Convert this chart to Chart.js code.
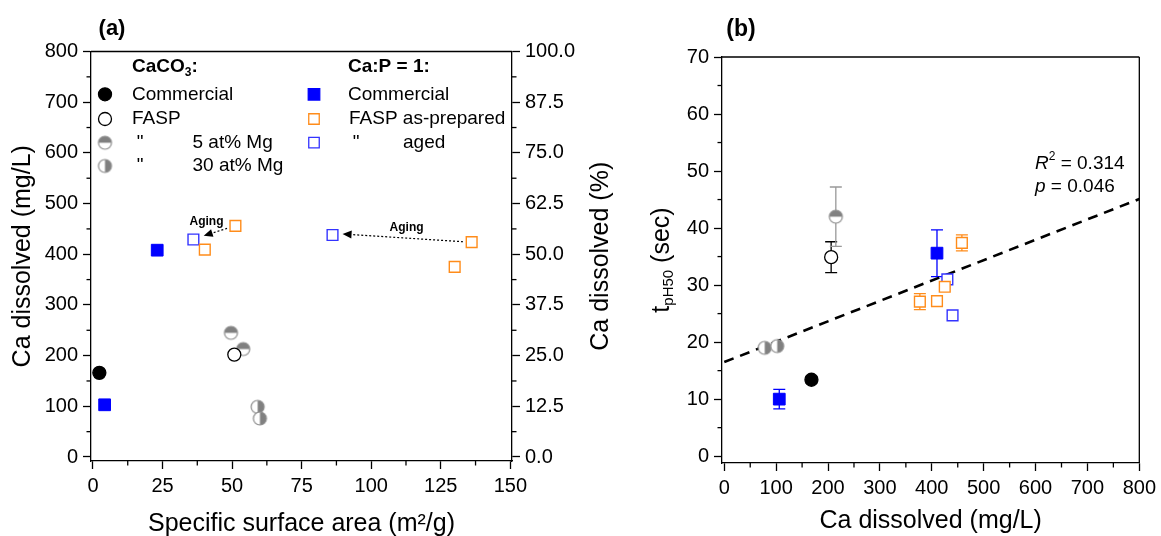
<!DOCTYPE html>
<html><head><meta charset="utf-8">
<script src="https://cdn.jsdelivr.net/npm/chart.js@4.4.1/dist/chart.umd.min.js"></script>
<style>
html,body{margin:0;padding:0;background:#fff;overflow:hidden;}
#wrap{position:relative;width:1161px;height:536px;background:#fff;}
#ca{position:absolute;left:0;top:0;}
#cb{position:absolute;left:625px;top:0;}
</style></head><body>
<div id="wrap">
<canvas id="ca" width="625" height="536"></canvas>
<canvas id="cb" width="536" height="536"></canvas>
</div>
<script>
// ================= DATA =================
// Panel (a): x = specific surface area (m2/g), y = Ca dissolved (mg/L)
const ssaCaCO3Commercial = [2.3];
const caCaCO3Commercial  = [166];
const ssaFASP = [50.8];
const caFASP  = [202];
const ssaMg5 = [49.6, 54.0];
const caMg5  = [245, 213];
const ssaMg30 = [59.2, 60.0];
const caMg30  = [99, 76];
const ssaCaPCommercial = [4.2, 23.1];
const caCaPCommercial  = [103, 408];
const ssaCaPAsPrep = [40.2, 51.2, 136.1, 130.0];
const caCaPAsPrep  = [409, 456, 424, 375];
const ssaCaPAged = [36.1, 86.1];
const caCaPAged  = [429, 438];
// "Aging" arrows (from -> to) and label positions, in data units of panel (a)
const agingFromX = [48.2, 133.0];
const agingFromY = [451, 424.7];
const agingToX   = [39.8, 89.7];
const agingToY   = [436.6, 440];
const agingLabelX = [40.8, 112.7];
const agingLabelY = [465, 453];

// Panel (b): x = Ca dissolved (mg/L), y = tpH50 (sec), e = error bar half-length
const bCaCaCO3Commercial = [168];
const tCaCO3Commercial   = [13.4];
const eCaCO3Commercial   = [0.6];
const bCaFASP = [206];
const tFASP   = [34.9];
const eFASP   = [2.7];
const bCaMg5 = [215];
const tMg5   = [42.0];
const eMg5   = [5.2];
const bCaMg30 = [78, 102];
const tMg30   = [19.0, 19.3];
const bCaCaPCommercial = [106, 410];
const tCaPCommercial   = [10.0, 35.6];
const eCaPCommercial   = [1.7, 4.1];
const bCaCaPAsPrep = [377, 410, 425, 458];
const tCaPAsPrep   = [27.1, 27.2, 29.7, 37.4];
const eCaPAsPrep   = [1.4, 0, 0, 1.4];
const bCaCaPAged = [430, 440];
const tCaPAged   = [31.0, 24.7];
// linear fit endpoints
const fitX = [0, 800];
const fitY = [16.5, 45.1];

// tick values / labels
const aXTicks = [0, 25, 50, 75, 100, 125, 150];
const aYTicks = [0, 100, 200, 300, 400, 500, 600, 700, 800];
const aY2Ticks = [0, 12.5, 25, 37.5, 50, 62.5, 75, 87.5, 100];
const aY2TickLabels = ['0.0','12.5','25.0','37.5','50.0','62.5','75.0','87.5','100.0'];
const bXTicks = [0, 100, 200, 300, 400, 500, 600, 700, 800];
const bYTicks = [0, 10, 20, 30, 40, 50, 60, 70];

// ================= STYLE / HELPERS =================
const FONT = '"Liberation Sans", Arial, sans-serif';
const BLUE = '#0000FF', BLUE2 = '#3333FF', ORANGE = '#FF8C1A', GRAY = '#808080', LGRAY = '#999999';

function pts(xs, ys){ return xs.map((x,i)=>({x:x, y:ys[i]})); }
function mids(arr){ const o=[]; for(let i=0;i<arr.length-1;i++) o.push((arr[i]+arr[i+1])/2); return o; }

function halfCircle(kind, r){
  const s = Math.ceil(2*r+4);
  const c = document.createElement('canvas'); c.width = s; c.height = s;
  const g = c.getContext('2d'); const cx = s/2, cy = s/2;
  g.fillStyle = '#fff'; g.beginPath(); g.arc(cx,cy,r,0,Math.PI*2); g.fill();
  g.fillStyle = GRAY; g.beginPath();
  if (kind === 'top') g.arc(cx,cy,r,Math.PI,0); else g.arc(cx,cy,r,-Math.PI/2,Math.PI/2);
  g.closePath(); g.fill();
  g.strokeStyle = '#8c8c8c'; g.lineWidth = 1.2; g.beginPath(); g.arc(cx,cy,r,0,Math.PI*2); g.stroke();
  return c;
}
const imgMg5 = halfCircle('top', 6.5);
const imgMg30 = halfCircle('right', 6.5);

function axisCommon(ticksArr, extra){
  return Object.assign({
    type: 'linear',
    afterBuildTicks: s => { s.ticks = ticksArr.map(v => ({value: v})); },
    ticks: { font: {family: FONT, size: 20}, color: '#000', padding: 5, autoSkip: false, maxRotation: 0 },
    grid: { display: true, drawOnChartArea: false, drawTicks: true, tickLength: 8, tickColor: '#000', tickWidth: 1.3, color: '#000' },
    border: { display: true, color: '#000', width: 1.3 }
  }, extra);
}

const minorTicks = {
  id: 'minorTicks',
  afterDraw(chart, args, opts){
    const ctx = chart.ctx; ctx.save(); ctx.strokeStyle = '#000'; ctx.lineWidth = 1.3;
    const sets = opts.sets || {};
    Object.keys(sets).forEach(id => {
      const s = chart.scales[id];
      sets[id].forEach(v => {
        const p = s.getPixelForValue(v);
        ctx.beginPath();
        if (s.position === 'left') { ctx.moveTo(s.right - 4.5, p); ctx.lineTo(s.right, p); }
        else if (s.position === 'right') { ctx.moveTo(s.left, p); ctx.lineTo(s.left + 4.5, p); }
        else { ctx.moveTo(p, s.top); ctx.lineTo(p, s.top + 4.5); }
        ctx.stroke();
      });
    });
    ctx.restore();
  }
};

const boxLines = {
  id: 'boxLines',
  afterDraw(chart, args, opts){
    const a = chart.chartArea, ctx = chart.ctx;
    ctx.save(); ctx.strokeStyle = '#000'; ctx.lineWidth = 1.3;
    ctx.beginPath(); ctx.moveTo(a.left, a.top); ctx.lineTo(a.right, a.top);
    if (opts.right) { ctx.moveTo(a.right, a.top); ctx.lineTo(a.right, a.bottom); }
    ctx.stroke(); ctx.restore();
  }
};

const errorBars = {
  id: 'errorBars',
  beforeDatasetsDraw(chart){
    const ctx = chart.ctx, xs = chart.scales.x, ys = chart.scales.y;
    ctx.save();
    chart.data.datasets.forEach(ds => {
      if (!ds.errorBars) return;
      ctx.strokeStyle = ds.errorColor || '#000'; ctx.lineWidth = 1.3;
      ds.data.forEach((p, i) => {
        const e = ds.errorBars[i]; if (!e) return;
        const px = xs.getPixelForValue(p.x);
        const t = ys.getPixelForValue(p.y + e), b = ys.getPixelForValue(p.y - e);
        const hw = ds.capHalf || 6;
        ctx.beginPath();
        ctx.moveTo(px, t); ctx.lineTo(px, b);
        ctx.moveTo(px - hw, t); ctx.lineTo(px + hw, t);
        ctx.moveTo(px - hw, b); ctx.lineTo(px + hw, b);
        ctx.stroke();
      });
    });
    ctx.restore();
  }
};

function drawCircleMarker(ctx, x, y, fill, stroke){
  ctx.beginPath(); ctx.arc(x, y, 6.5, 0, Math.PI*2);
  ctx.fillStyle = fill; ctx.fill(); ctx.lineWidth = 1.3; ctx.strokeStyle = stroke; ctx.stroke();
}
function drawSquareMarker(ctx, x, y, fill, stroke, side){
  ctx.beginPath(); ctx.rect(x - side/2, y - side/2, side, side);
  ctx.fillStyle = fill; ctx.fill(); ctx.lineWidth = 1.3; ctx.strokeStyle = stroke; ctx.stroke();
}

function rotatedText(ctx, parts, cx, cy){
  // parts: [{t, font, dy}]
  ctx.save(); ctx.translate(cx, cy); ctx.rotate(-Math.PI/2);
  ctx.textBaseline = 'middle'; ctx.textAlign = 'left'; ctx.fillStyle = '#000';
  let w = 0; parts.forEach(p => { ctx.font = p.font; w += ctx.measureText(p.t).width; });
  let x = -w/2;
  parts.forEach(p => { ctx.font = p.font; ctx.fillText(p.t, x, p.dy || 0); x += ctx.measureText(p.t).width; });
  ctx.restore();
}

// ================= PANEL (a) =================
const annotA = {
  id: 'annotA',
  afterDraw(chart){
    const ctx = chart.ctx, a = chart.chartArea, xs = chart.scales.x, ys = chart.scales.y;
    ctx.save();
    ctx.fillStyle = '#000';
    // panel label
    ctx.font = 'bold 22px ' + FONT; ctx.textAlign = 'center'; ctx.textBaseline = 'middle';
    ctx.fillText('(a)', 112, 28.5);
    // axis titles
    rotatedText(ctx, [{t:'Ca dissolved (mg/L)', font:'25px ' + FONT}], 23, (a.top + a.bottom)/2);
    rotatedText(ctx, [{t:'Ca dissolved (%)', font:'25px ' + FONT}], 601, (a.top + a.bottom)/2);
    ctx.font = '25px ' + FONT; ctx.textAlign = 'center'; ctx.textBaseline = 'middle';
    ctx.fillText('Specific surface area (m\u00B2/g)', (a.left + a.right)/2, 524);

    // legend
    const L = a.left, T = a.top;
    ctx.textAlign = 'left'; ctx.textBaseline = 'middle';
    // headers
    let x = L + 41;
    ctx.font = 'bold 19px ' + FONT; ctx.fillText('CaCO', x, T + 15.5); x += ctx.measureText('CaCO').width;
    ctx.font = 'bold 12px ' + FONT; ctx.fillText('3', x, T + 21.5); x += ctx.measureText('3').width;
    ctx.font = 'bold 19px ' + FONT; ctx.fillText(':', x, T + 15.5);
    ctx.fillText('Ca:P = 1:', L + 257, T + 15.5);
    const rows = [T + 42.8, T + 67.5, T + 91.2, T + 114.5];
    ctx.font = '19px ' + FONT;
    // column 1
    drawCircleMarker(ctx, L + 14, rows[0], '#000', '#000');
    ctx.fillStyle = '#000'; ctx.fillText('Commercial', L + 41, rows[0]);
    drawCircleMarker(ctx, L + 14, rows[1], '#fff', '#000');
    ctx.fillStyle = '#000'; ctx.fillText('FASP', L + 41, rows[1]);
    ctx.drawImage(imgMg5, L + 14 - imgMg5.width/2, rows[2] - imgMg5.height/2);
    ctx.fillStyle = '#000'; ctx.textAlign = 'center'; ctx.fillText('"', L + 49, rows[2]);
    ctx.textAlign = 'left'; ctx.fillText('5 at% Mg', L + 101.5, rows[2]);
    ctx.drawImage(imgMg30, L + 14 - imgMg30.width/2, rows[3] - imgMg30.height/2);
    ctx.fillStyle = '#000'; ctx.textAlign = 'center'; ctx.fillText('"', L + 49, rows[3]);
    ctx.textAlign = 'left'; ctx.fillText('30 at% Mg', L + 101.5, rows[3]);
    // column 2
    drawSquareMarker(ctx, L + 223, rows[0], BLUE, BLUE, 11.5);
    ctx.fillStyle = '#000'; ctx.fillText('Commercial', L + 257, rows[0]);
    drawSquareMarker(ctx, L + 223, rows[1], '#fff', ORANGE, 10.5);
    ctx.fillStyle = '#000'; ctx.fillText('FASP as-prepared', L + 258, rows[1]);
    drawSquareMarker(ctx, L + 223, rows[2], '#fff', BLUE2, 10.5);
    ctx.fillStyle = '#000'; ctx.textAlign = 'center'; ctx.fillText('"', L + 265, rows[2]);
    ctx.textAlign = 'left'; ctx.fillText('aged', L + 312, rows[2]);

    // aging arrows
    for (let i = 0; i < agingFromX.length; i++) {
      const x1 = xs.getPixelForValue(agingFromX[i]), y1 = ys.getPixelForValue(agingFromY[i]);
      const x2 = xs.getPixelForValue(agingToX[i]), y2 = ys.getPixelForValue(agingToY[i]);
      const ang = Math.atan2(y2 - y1, x2 - x1), hl = 9, hw = 4;
      const bx = x2 - hl*Math.cos(ang), by = y2 - hl*Math.sin(ang);
      ctx.save(); ctx.strokeStyle = '#000'; ctx.lineWidth = 1.2; ctx.setLineDash([2, 2]);
      ctx.beginPath(); ctx.moveTo(x1, y1); ctx.lineTo(bx, by); ctx.stroke(); ctx.restore();
      ctx.beginPath(); ctx.moveTo(x2, y2);
      ctx.lineTo(bx + hw*Math.sin(ang), by - hw*Math.cos(ang));
      ctx.lineTo(bx - hw*Math.sin(ang), by + hw*Math.cos(ang));
      ctx.closePath(); ctx.fillStyle = '#000'; ctx.fill();
      ctx.font = 'bold 12px ' + FONT; ctx.textAlign = 'center'; ctx.textBaseline = 'middle';
      ctx.fillText('Aging', xs.getPixelForValue(agingLabelX[i]), ys.getPixelForValue(agingLabelY[i]));
    }
    ctx.restore();
  }
};

const dsA = [
  { label: 'CaCO3 Commercial', data: pts(ssaCaCO3Commercial, caCaCO3Commercial), pointStyle: 'circle', pointRadius: 6.5, backgroundColor: '#000', borderColor: '#000', borderWidth: 1.3 },
  { label: 'FASP', data: pts(ssaFASP, caFASP), pointStyle: 'circle', pointRadius: 6.5, backgroundColor: '#fff', borderColor: '#000', borderWidth: 1.3 },
  { label: '5 at% Mg', data: pts(ssaMg5, caMg5), pointStyle: imgMg5, pointRadius: 6.5 },
  { label: '30 at% Mg', data: pts(ssaMg30, caMg30), pointStyle: imgMg30, pointRadius: 6.5 },
  { label: 'Ca:P=1 Commercial', data: pts(ssaCaPCommercial, caCaPCommercial), pointStyle: 'rect', pointRadius: 8.3, backgroundColor: BLUE, borderColor: BLUE, borderWidth: 1 },
  { label: 'FASP as-prepared', data: pts(ssaCaPAsPrep, caCaPAsPrep), pointStyle: 'rect', pointRadius: 7.6, backgroundColor: '#fff', borderColor: ORANGE, borderWidth: 1.4 },
  { label: 'aged', data: pts(ssaCaPAged, caCaPAged), pointStyle: 'rect', pointRadius: 7.6, backgroundColor: '#fff', borderColor: BLUE2, borderWidth: 1.4 }
];

new Chart(document.getElementById('ca'), {
  type: 'scatter',
  data: { datasets: dsA },
  options: {
    responsive: false, animation: false, events: [],
    layout: { padding: { top: 51.5, left: 0, right: 0, bottom: 0 } },
    plugins: { legend: { display: false }, tooltip: { enabled: false },
      minorTicks: { sets: { x: mids(aXTicks), y: mids(aYTicks), y1: mids(aY2Ticks) } },
      boxLines: { right: false } },
    scales: {
      x: axisCommon(aXTicks, { position: 'bottom', min: -0.7, max: 150.6, afterFit: s => { s.height = 75; } }),
      y: axisCommon(aYTicks, { position: 'left', min: -7.9, max: 800, afterFit: s => { s.width = 91; } }),
      y1: Object.assign(axisCommon(aY2Ticks, { position: 'right', min: -7.9/8, max: 100, afterFit: s => { s.width = 113; } }),
        { ticks: { font: {family: FONT, size: 20}, color: '#000', padding: 5, autoSkip: false, maxRotation: 0,
                   callback: (v, i) => aY2TickLabels[i] } })
    }
  },
  plugins: [errorBars, minorTicks, boxLines, annotA]
});

// ================= PANEL (b) =================
const annotB = {
  id: 'annotB',
  afterDraw(chart){
    const ctx = chart.ctx, a = chart.chartArea;
    ctx.save(); ctx.fillStyle = '#000';
    ctx.font = 'bold 23px ' + FONT; ctx.textAlign = 'center'; ctx.textBaseline = 'middle';
    ctx.fillText('(b)', 116, 29.5);
    ctx.font = '25px ' + FONT;
    ctx.fillText('Ca dissolved (mg/L)', (a.left + a.right)/2, 521);
    rotatedText(ctx, [
      {t:'t', font:'25px ' + FONT},
      {t:'pH50', font:'15px ' + FONT, dy: 7},
      {t:' (sec)', font:'25px ' + FONT}
    ], 37, (a.top + a.bottom)/2);
    // R2 / p annotation
    ctx.textAlign = 'left'; ctx.textBaseline = 'middle';
    let x = 410, y = 163.3;
    ctx.font = 'italic 19px ' + FONT; ctx.fillText('R', x, y); x += ctx.measureText('R').width;
    ctx.font = '12px ' + FONT; ctx.fillText('2', x, y - 7); x += ctx.measureText('2').width;
    ctx.font = '19px ' + FONT; ctx.fillText(' = 0.314', x, y);
    x = 410; y = 186.7;
    ctx.font = 'italic 19px ' + FONT; ctx.fillText('p', x, y); x += ctx.measureText('p').width;
    ctx.font = '19px ' + FONT; ctx.fillText(' = 0.046', x, y);
    ctx.restore();
  }
};

const dsB = [
  { label: 'CaCO3 Commercial', data: pts(bCaCaCO3Commercial, tCaCO3Commercial), errorBars: eCaCO3Commercial, errorColor: '#000', capHalf: 6, pointStyle: 'circle', pointRadius: 6.5, backgroundColor: '#000', borderColor: '#000', borderWidth: 1.3 },
  { label: 'FASP', data: pts(bCaFASP, tFASP), errorBars: eFASP, errorColor: '#000', capHalf: 6, pointStyle: 'circle', pointRadius: 6.5, backgroundColor: '#fff', borderColor: '#000', borderWidth: 1.3 },
  { label: '5 at% Mg', data: pts(bCaMg5, tMg5), errorBars: eMg5, errorColor: LGRAY, capHalf: 6, pointStyle: imgMg5, pointRadius: 6.5 },
  { label: '30 at% Mg', data: pts(bCaMg30, tMg30), pointStyle: imgMg30, pointRadius: 6.5 },
  { label: 'Ca:P=1 Commercial', data: pts(bCaCaPCommercial, tCaPCommercial), errorBars: eCaPCommercial, errorColor: BLUE, capHalf: 6, pointStyle: 'rect', pointRadius: 8.3, backgroundColor: BLUE, borderColor: BLUE, borderWidth: 1 },
  { label: 'FASP as-prepared', data: pts(bCaCaPAsPrep, tCaPAsPrep), errorBars: eCaPAsPrep, errorColor: ORANGE, capHalf: 6, pointStyle: 'rect', pointRadius: 7.6, backgroundColor: '#fff', borderColor: ORANGE, borderWidth: 1.4 },
  { label: 'aged', data: pts(bCaCaPAged, tCaPAged), pointStyle: 'rect', pointRadius: 7.6, backgroundColor: '#fff', borderColor: BLUE2, borderWidth: 1.4 },
  { label: 'fit', type: 'line', data: pts(fitX, fitY), showLine: true, pointRadius: 0, borderColor: '#000', borderWidth: 2.6, borderDash: [10, 7], fill: false }
];

new Chart(document.getElementById('cb'), {
  type: 'scatter',
  data: { datasets: dsB },
  options: {
    responsive: false, animation: false, events: [],
    layout: { padding: { top: 57, left: 0, right: 18, bottom: 0 } },
    plugins: { legend: { display: false }, tooltip: { enabled: false },
      minorTicks: { sets: { x: mids(bXTicks), y: mids(bYTicks) } },
      boxLines: { right: true } },
    scales: {
      x: axisCommon(bXTicks, { position: 'bottom', min: -4.4, max: 800, afterFit: s => { s.height = 73; } }),
      y: axisCommon(bYTicks, { position: 'left', min: -1.2, max: 70, afterFit: s => { s.width = 97; } })
    }
  },
  plugins: [errorBars, minorTicks, boxLines, annotB]
});
</script>
</body></html>
